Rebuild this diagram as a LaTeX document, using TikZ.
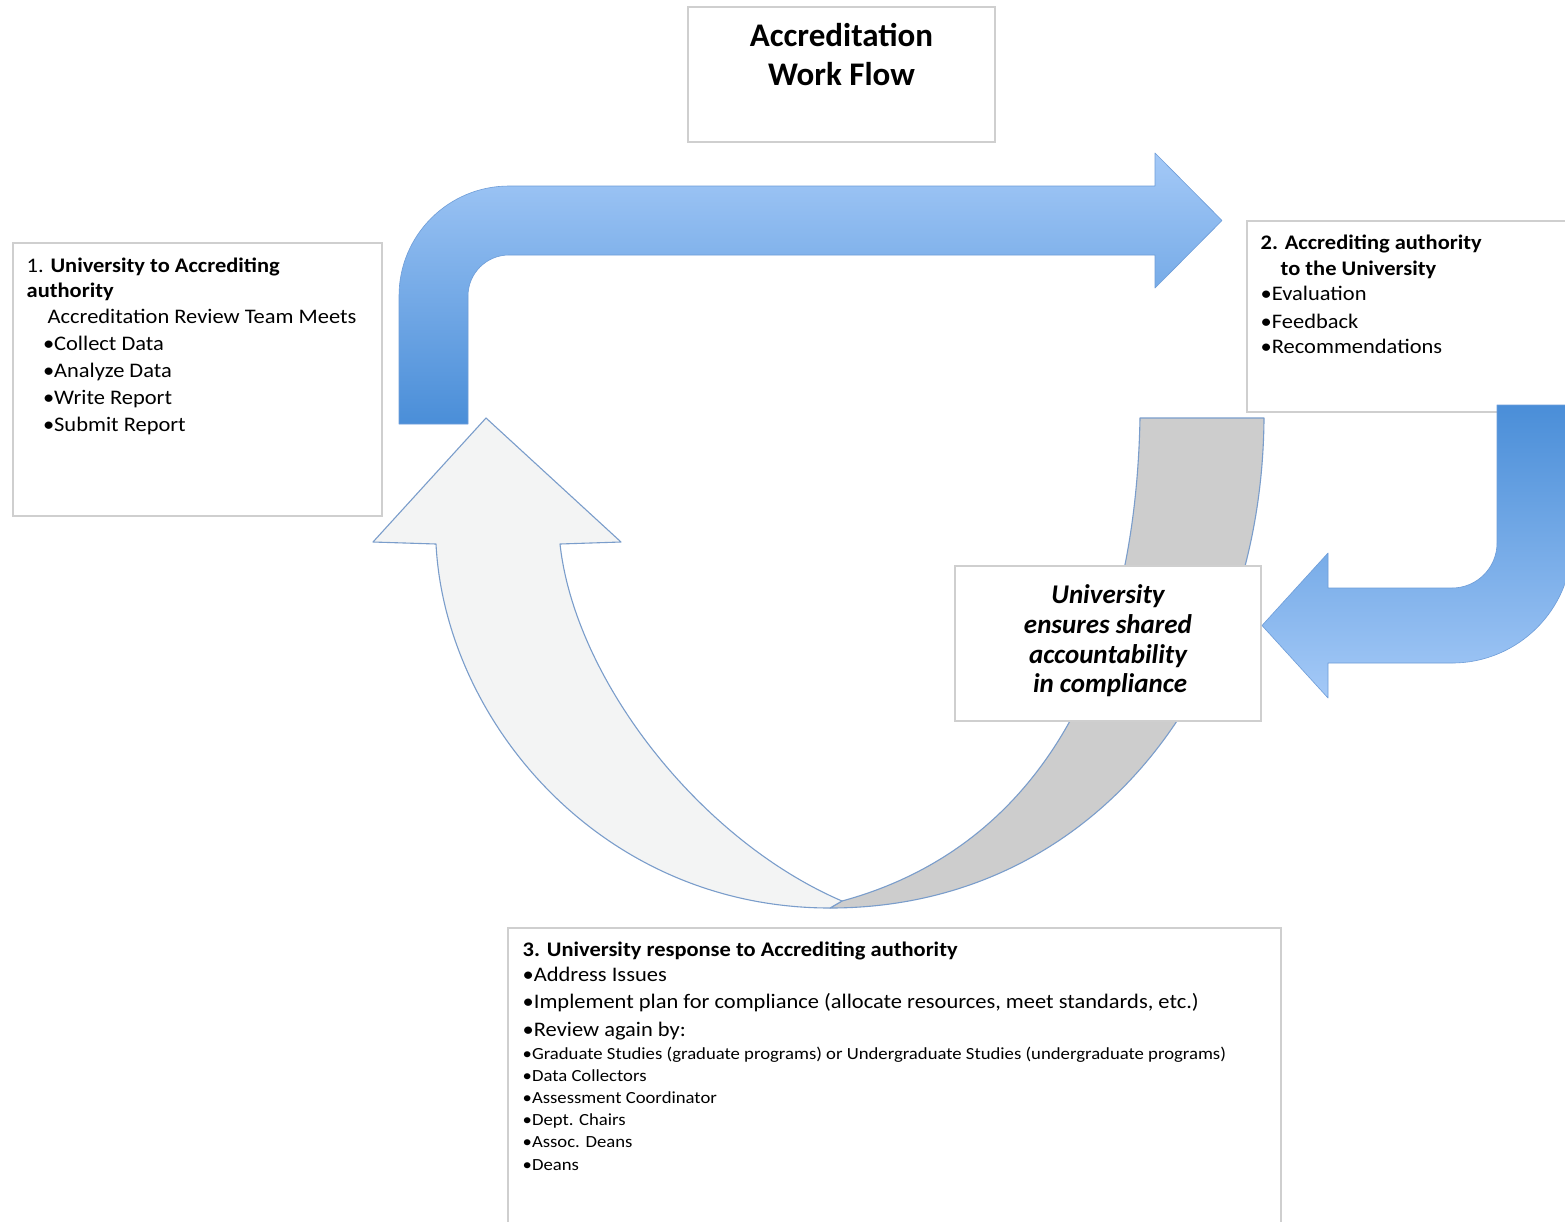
\documentclass[tikz,border=0pt]{standalone}
\usepackage{fontspec}
\setmainfont{Carlito}
\newfontfamily\wideA{Carlito}[FakeStretch=1.085]
\newfontfamily\wideB{Carlito}[FakeStretch=1.10]
\definecolor{boxgray}{HTML}{CFCFCF}
\definecolor{uedge}{HTML}{7A9DCB}
\definecolor{ulight}{HTML}{F3F4F4}
\definecolor{udark}{HTML}{CDCDCD}
\definecolor{bluelight}{HTML}{A4C9F7}
\definecolor{bluedark}{HTML}{4A8ED8}
\definecolor{blueedge}{HTML}{6E9DD8}
\begin{document}
\begin{tikzpicture}[x=1pt,y=-1pt,
  box/.style={draw=boxgray, fill=white, line width=1.2pt, anchor=north west, inner sep=0pt, outer sep=0pt},
  tx/.style={anchor=base west, inner sep=0pt, outer sep=0pt, font=\wideA\fontsize{20.7}{25}\selectfont},
  sm/.style={anchor=base west, inner sep=0pt, outer sep=0pt, font=\wideB\fontsize{17}{20}\selectfont},
  ttl/.style={anchor=base, inner sep=0pt, font=\fontsize{33}{38}\selectfont\bfseries},
  midtx/.style={anchor=base, inner sep=0pt, font=\fontsize{27}{30}\selectfont\bfseries\itshape},
  uarrow/.style={draw=uedge, line width=1.1pt, line join=round},
  bluearrow/.style={draw=blueedge, line width=0.6pt, line join=round}]
\useasboundingbox (0,0) rectangle (1565,1221);
\clip (0,0) rectangle (1565,1221);
\fill[white] (0,0) rectangle (1565,1221);

% back (dark) band of the U-turn arrow
\filldraw[uarrow, fill=udark]
  (1140,418) -- (1264,418)
  .. controls (1262,690) and (1090,908) .. (830,908)
  -- (842,901)
  .. controls (1030,850) and (1135,680) .. (1140,418) -- cycle;
% front (light) arrow pointing up
\filldraw[uarrow, fill=ulight]
  (830,908) .. controls (600,908) and (445,720) .. (436,544)
  -- (373,542) -- (486,418) -- (621,542) -- (560,544)
  .. controls (575,680) and (700,840) .. (842,901) -- cycle;

% top blue bent arrow
\shadedraw[bluearrow, top color=bluelight, bottom color=bluedark]
  (399,424) -- (399,296) arc[start angle=180, end angle=270, radius=110]
  -- (1155,186) -- (1155,153) -- (1222,220.5) -- (1155,288) -- (1155,255)
  -- (509,255) arc[start angle=270, end angle=180, radius=41]
  -- (468,424) -- cycle;

% boxes
\node[box, minimum width=307pt, minimum height=135pt] (title) at (688,7) {};
\node[box, minimum width=369pt, minimum height=273pt] (b1) at (13,243) {};
\node[box, minimum width=360pt, minimum height=191pt] (b2) at (1247,221) {};
\node[box, minimum width=306pt, minimum height=155pt] (bm) at (955,566) {};
\node[box, minimum width=773pt, minimum height=320pt] (b3) at (508,928) {};

% J-shaped blue arrow
\shadedraw[bluearrow, top color=bluedark, bottom color=bluelight]
  (1497,405) -- (1497,543) arc[start angle=0, end angle=90, radius=45]
  -- (1328,588) -- (1328,553) -- (1262,625.5) -- (1328,698) -- (1328,663)
  -- (1452,663) arc[start angle=90, end angle=0, radius=120]
  -- (1572,405) -- cycle;

% title text
\node[ttl] (t1) at (841.5,46.7) {Accreditation};
\node[ttl] (t2) at (841.5,85) {Work Flow};

% box 1 text
\node[tx] (a1) at (26.7,272) {1. \textbf{University to Accrediting}};
\node[tx] (a2) at (26.7,297) {\textbf{authority}};
\node[tx] (a3) at (47.7,323) {Accreditation Review Team Meets};
\node[tx] (a4) at (43,350) {•Collect Data};
\node[tx] (a5) at (43,377) {•Analyze Data};
\node[tx] (a6) at (43,404) {•Write Report};
\node[tx] (a7) at (43,431) {•Submit Report};

% box 2 text
\node[tx] (c1) at (1260.7,249.3) {\textbf{2. Accrediting authority}};
\node[tx] (c2) at (1280.7,275) {\textbf{to the University}};
\node[tx] (c3) at (1260.7,300.7) {•Evaluation};
\node[tx] (c4) at (1260.7,328.3) {•Feedback};
\node[tx] (c5) at (1260.7,353.3) {•Recommendations};

% middle box text
\node[midtx] (m1) at (1108,603) {University};
\node[midtx] (m2) at (1108,633) {ensures shared};
\node[midtx] (m3) at (1108,663) {accountability};
\node[midtx] (m4) at (1110,692) {in compliance};

% box 3 text
\node[tx] (d1) at (522.7,956.7) {\textbf{3. University response to Accrediting authority}};
\node[tx] (d2) at (522.7,981.7) {•Address Issues};
\node[tx] (d3) at (522.7,1008.3) {•Implement plan for compliance (allocate resources, meet standards, etc.)};
\node[tx] (d4) at (522.7,1036.7) {•Review again by:};
\node[sm] (d5) at (522.7,1059.3) {•Graduate Studies (graduate programs) or Undergraduate Studies (undergraduate programs)};
\node[sm] (d6) at (522.7,1081.7) {•Data Collectors};
\node[sm] (d7) at (522.7,1103.3) {•Assessment Coordinator};
\node[sm] (d8) at (522.7,1125.7) {•Dept. Chairs};
\node[sm] (d9) at (522.7,1147.7) {•Assoc. Deans};
\node[sm] (d10) at (522.7,1170) {•Deans};
\end{tikzpicture}
\end{document}
